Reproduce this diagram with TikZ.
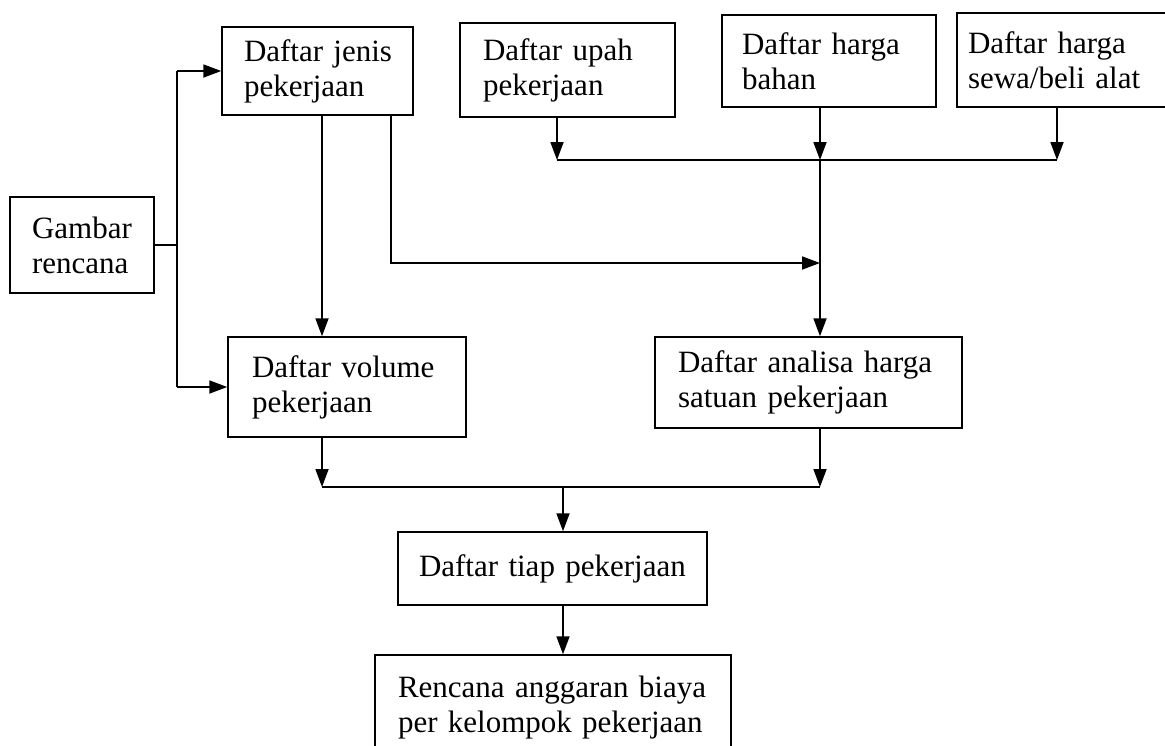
\documentclass[tikz,border=0pt]{standalone}
\usepackage{fontspec}
\setmainfont{Liberation Serif}
\usetikzlibrary{arrows.meta}
\tikzset{
  box/.style={draw, line width=1.5pt, rectangle, align=left,
    font=\fontsize{31}{35}\selectfont, inner ysep=0pt},
  line/.style={line width=1.8pt},
  arr/.style={line width=1.8pt, -{Triangle[length=18pt,width=13pt]}},
}
\begin{document}
\begin{tikzpicture}[x=1pt,y=-1pt]
\useasboundingbox (0,0) rectangle (1165,745);
\clip (0,0) rectangle (1165,745);
% boxes
\node[box, inner xsep=22pt, text width=100pt, minimum height=96pt] (gambar) at (82,245) {\mbox{Gambar}\\\mbox{rencana}};
\node[box, inner xsep=22pt, text width=147pt, minimum height=88pt] (jenis) at (317.5,71) {\mbox{Daftar jenis}\\\mbox{pekerjaan}};
\node[box, inner xsep=23pt, text width=169pt, minimum height=94pt] (upah) at (567.5,70) {\mbox{Daftar upah}\\\mbox{pekerjaan}};
\node[box, inner xsep=20pt, text width=174pt, minimum height=92pt] (bahan) at (829,61) {\mbox{Daftar harga}\\\mbox{bahan}};
\node[box, inner xsep=11pt, text width=193pt, minimum height=94pt] (sewa) at (1064.5,60) {\mbox{Daftar harga}\\\mbox{sewa/beli alat}};
\node[box, inner xsep=24pt, text width=190pt, minimum height=100pt] (vol) at (347,387) {\mbox{Daftar volume}\\\mbox{pekerjaan}};
\node[box, inner xsep=23pt, text width=261pt, minimum height=91pt] (ana) at (808.5,382.5) {\mbox{Daftar analisa harga}\\\mbox{satuan pekerjaan}};
\node[box, inner xsep=21pt, text width=267pt, minimum height=73pt] (tiap) at (552.5,568.5) {\mbox{Daftar tiap pekerjaan}};
\node[box, inner xsep=23pt, text width=310pt, minimum height=106pt] (ren) at (553,708) {\mbox{Rencana anggaran biaya}\\\mbox{per kelompok pekerjaan}};
% helper coordinates
\coordinate (xl) at (177,0);
\coordinate (xa) at (322,0);
\coordinate (xb) at (391,0);
\coordinate (xu) at (557,0);
\coordinate (xt) at (563,0);
\coordinate (xc) at (820,0);
\coordinate (xs) at (1057,0);
\coordinate (ytop) at (0,160);
\coordinate (ymid) at (0,263);
\coordinate (ybot) at (0,487);
% Gambar rencana fan-out
\draw[line] (gambar.east) -- (gambar.east -| xl);
\draw[line] (jenis.west -| xl) -- (vol.west -| xl);
\draw[arr] (jenis.west -| xl) -- (jenis.west);
\draw[arr] (vol.west -| xl) -- (vol.west);
% jenis -> volume
\draw[arr] (jenis.south -| xa) -- (vol.north -| xa);
% jenis -> analisa line
\draw[arr] (jenis.south -| xb) -- (xb |- ymid) -- (xc |- ymid);
% top bus
\draw[arr] (upah.south -| xu) -- (xu |- ytop);
\draw[arr] (bahan.south -| xc) -- (xc |- ytop);
\draw[arr] (sewa.south -| xs) -- (xs |- ytop);
\draw[line] (xu |- ytop) -- (xs |- ytop);
\draw[arr] (xc |- ytop) -- (ana.north -| xc);
% bottom bus
\draw[arr] (vol.south -| xa) -- (xa |- ybot);
\draw[arr] (ana.south -| xc) -- (xc |- ybot);
\draw[line] (xa |- ybot) -- (xc |- ybot);
\draw[arr] (xt |- ybot) -- (tiap.north -| xt);
\draw[arr] (tiap.south -| xt) -- (ren.north -| xt);
\end{tikzpicture}
\end{document}
